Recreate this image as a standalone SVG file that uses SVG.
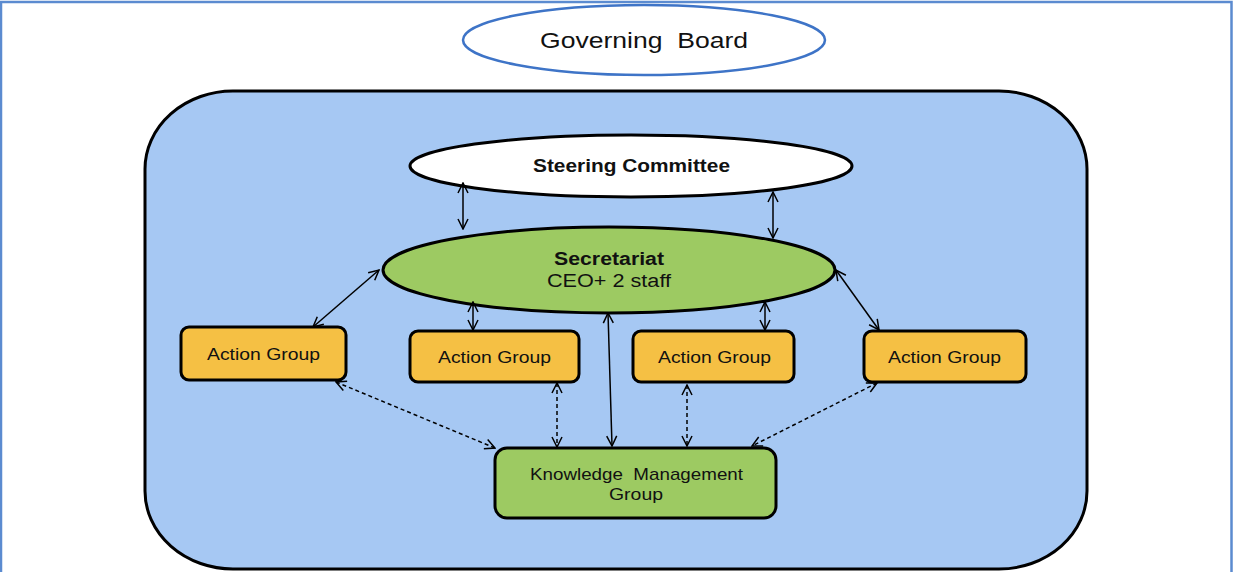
<svg xmlns="http://www.w3.org/2000/svg" width="1234" height="572" viewBox="0 0 1234 572">
<style>
text{font-family:"Liberation Sans",Arial,sans-serif;fill:#111;text-anchor:middle}
.ag{fill:#f5c044;stroke:#000;stroke-width:3}
.con{fill:none;stroke:#000;stroke-width:1.5}
.dash{stroke-dasharray:4,3}
.t17{font-size:17px}
</style>
<defs>
<marker id="ah" viewBox="0 0 12 12" refX="11" refY="6" markerWidth="12" markerHeight="12" markerUnits="userSpaceOnUse" orient="auto-start-reverse">
<path d="M1,1 L11,6 L1,11" fill="none" stroke="#000" stroke-width="1.5"/>
</marker>
</defs>
<rect x="0" y="0" width="1234" height="572" fill="#fff"/>
<rect id="frame" x="1" y="2" width="1230.5" height="600" fill="none" stroke="#5b8bd0" stroke-width="2.5"/>
<g id="governing-board">
<ellipse cx="644" cy="40" rx="181" ry="35" fill="#fff" stroke="#3e74c7" stroke-width="2.5"/>
<text x="644" y="48" font-size="22" xml:space="preserve" textLength="208" lengthAdjust="spacingAndGlyphs">Governing  Board</text>
</g>
<g id="container">
<rect x="145" y="91" width="942" height="478" rx="88" ry="78" fill="#a6c8f3" stroke="#000" stroke-width="3"/>
</g>
<g id="steering-committee">
<ellipse cx="631" cy="166" rx="221" ry="31" fill="#fff" stroke="#000" stroke-width="3"/>
<text x="631.5" y="172" font-size="18" font-weight="bold" textLength="197" lengthAdjust="spacingAndGlyphs">Steering Committee</text>
</g>
<g id="secretariat">
<ellipse cx="609" cy="270" rx="226" ry="43" fill="#9dca62" stroke="#000" stroke-width="3"/>
<text x="609" y="265" font-size="18" font-weight="bold" textLength="110" lengthAdjust="spacingAndGlyphs">Secretariat</text>
<text x="609" y="287" font-size="18" textLength="124" lengthAdjust="spacingAndGlyphs">CEO+ 2 staff</text>
</g>
<g id="action-group-1">
<rect class="ag" x="181" y="327" width="165" height="53" rx="8"/>
<text class="t17" x="263.5" y="360" textLength="113" lengthAdjust="spacingAndGlyphs">Action Group</text>
</g>
<g id="action-group-2">
<rect class="ag" x="410" y="331" width="169" height="51" rx="8"/>
<text class="t17" x="494.5" y="363" textLength="113" lengthAdjust="spacingAndGlyphs">Action Group</text>
</g>
<g id="action-group-3">
<rect class="ag" x="633" y="331" width="161" height="51" rx="8"/>
<text class="t17" x="714.5" y="363" textLength="113" lengthAdjust="spacingAndGlyphs">Action Group</text>
</g>
<g id="action-group-4">
<rect class="ag" x="864" y="331" width="162" height="51" rx="8"/>
<text class="t17" x="944.5" y="363" textLength="113" lengthAdjust="spacingAndGlyphs">Action Group</text>
</g>
<g id="knowledge-management-group">
<rect x="495" y="448" width="281" height="70" rx="12" fill="#9dca62" stroke="#000" stroke-width="3"/>
<text class="t17" x="636.5" y="480" xml:space="preserve" textLength="213" lengthAdjust="spacingAndGlyphs">Knowledge  Management</text>
<text class="t17" x="636" y="500" textLength="54" lengthAdjust="spacingAndGlyphs">Group</text>
</g>
<g id="connectors">
<line class="con" x1="463" y1="183" x2="463" y2="229" marker-start="url(#ah)" marker-end="url(#ah)"/>
<line class="con" x1="773" y1="192" x2="773" y2="238" marker-start="url(#ah)" marker-end="url(#ah)"/>
<line class="con" x1="379" y1="270" x2="313" y2="327" marker-start="url(#ah)" marker-end="url(#ah)"/>
<line class="con" x1="473" y1="302" x2="473" y2="330" marker-start="url(#ah)" marker-end="url(#ah)"/>
<line class="con" x1="765" y1="302" x2="765" y2="330" marker-start="url(#ah)" marker-end="url(#ah)"/>
<line class="con" x1="836" y1="270" x2="879" y2="330" marker-start="url(#ah)" marker-end="url(#ah)"/>
<line class="con" x1="608" y1="313" x2="612" y2="446" marker-start="url(#ah)" marker-end="url(#ah)"/>
<line class="con dash" x1="336" y1="382" x2="495" y2="448" marker-start="url(#ah)" marker-end="url(#ah)"/>
<line class="con dash" x1="557" y1="383" x2="557" y2="447" marker-start="url(#ah)" marker-end="url(#ah)"/>
<line class="con dash" x1="687" y1="385" x2="687" y2="446" marker-start="url(#ah)" marker-end="url(#ah)"/>
<line class="con dash" x1="877" y1="383" x2="752" y2="446" marker-start="url(#ah)" marker-end="url(#ah)"/>
</g>
</svg>
